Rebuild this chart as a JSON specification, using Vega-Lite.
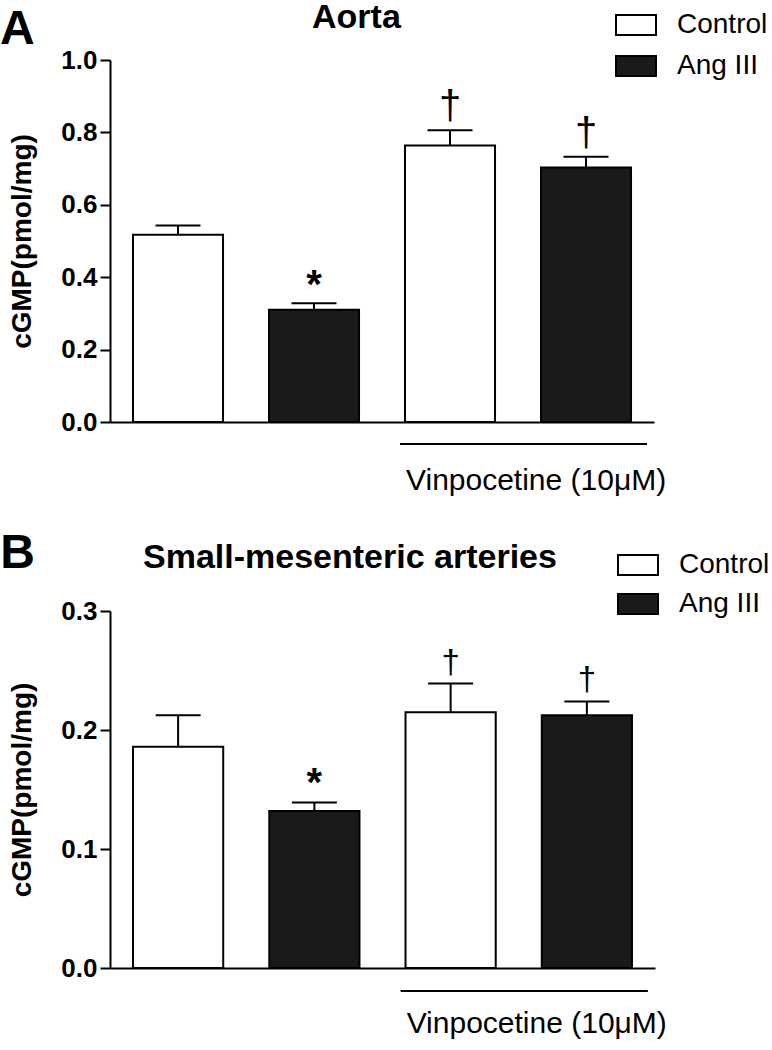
{
  "$schema": "https://vega.github.io/schema/vega-lite/v6.json",
  "padding": {"left": 0, "top": 1, "right": 0, "bottom": 0},
  "background": "white",
  "config": {
    "font": "Liberation Sans",
    "view": {"stroke": null},
    "axisY": {"domainColor": "black", "domainWidth": 2, "tickColor": "black", "tickWidth": 2, "tickSize": 10, "labelFontSize": 26, "labelFontWeight": "bold", "labelColor": "black", "labelPadding": 3, "titleFontSize": 28, "titleFontWeight": "bold", "titleColor": "black", "titlePadding": 24, "grid": false},
    "axisX": {"domainColor": "black", "domainWidth": 2, "ticks": false, "labels": false, "grid": false}
  },
  "datasets": {
    "aorta": [
      {"group": "Control", "treatment": "Control", "value": 0.517, "err": 0.543, "sig": ""},
      {"group": "Ang III", "treatment": "Ang III", "value": 0.310, "err": 0.328, "sig": "*"},
      {"group": "Vinpocetine + Control", "treatment": "Control", "value": 0.764, "err": 0.806, "sig": "†"},
      {"group": "Vinpocetine + Ang III", "treatment": "Ang III", "value": 0.703, "err": 0.733, "sig": "†"}
    ],
    "mesenteric": [
      {"group": "Control", "treatment": "Control", "value": 0.186, "err": 0.2125, "sig": ""},
      {"group": "Ang III", "treatment": "Ang III", "value": 0.132, "err": 0.139, "sig": "*"},
      {"group": "Vinpocetine + Control", "treatment": "Control", "value": 0.215, "err": 0.239, "sig": "†"},
      {"group": "Vinpocetine + Ang III", "treatment": "Ang III", "value": 0.2125, "err": 0.224, "sig": "†"}
    ],
    "panelA": [{"label": "A"}],
    "panelB": [{"label": "B"}],
    "vinpo": [{"label": "Vinpocetine (10μM)"}]
  },
  "spacing": 189,
  "bounds": "flush",
  "resolve": {"scale": {"x": "independent", "y": "independent", "fill": "independent"}, "legend": {"fill": "independent"}},
  "vconcat": [
    {
      "width": 544,
      "height": 362,
      "title": {"text": "Aorta", "anchor": "start", "frame": "group", "dx": 202, "fontSize": 34, "fontWeight": "bold", "color": "black", "baseline": "alphabetic", "offset": -58},
      "layer": [
        {
          "data": {"name": "aorta"},
          "mark": {"type": "bar", "stroke": "black", "strokeWidth": 2},
          "encoding": {
            "x": {"field": "group", "type": "nominal", "scale": {"domain": ["Control", "Ang III", "Vinpocetine + Control", "Vinpocetine + Ang III"], "paddingInner": 0.338, "paddingOuter": 0.169}, "axis": {"title": null}},
            "y": {"field": "value", "type": "quantitative", "scale": {"domain": [0, 1]}, "axis": {"values": [0, 0.2, 0.4, 0.6, 0.8, 1], "format": ".1f", "title": "cGMP(pmol/mg)"}},
            "fill": {"field": "treatment", "type": "nominal", "scale": {"domain": ["Control", "Ang III"], "range": ["white", "#1a1a1a"]},
              "legend": {"orient": "none", "legendX": 505, "legendY": -56, "title": null, "symbolType": "M-1,-0.5H1V0.5H-1Z", "symbolSize": 1600, "symbolStrokeColor": "black", "symbolStrokeWidth": 2, "symbolOpacity": 1, "labelFontSize": 28, "labelColor": "black", "labelOffset": 20, "rowPadding": 6}}
          }
        },
        {
          "data": {"name": "aorta"},
          "mark": {"type": "rule", "strokeWidth": 2, "color": "black"},
          "encoding": {
            "x": {"field": "group", "type": "nominal"},
            "y": {"field": "value", "type": "quantitative", "axis": {"title": "cGMP(pmol/mg)"}},
            "y2": {"field": "err"}
          }
        },
        {
          "data": {"name": "aorta"},
          "mark": {"type": "tick", "orient": "horizontal", "size": 45, "thickness": 2, "color": "black", "opacity": 1},
          "encoding": {
            "x": {"field": "group", "type": "nominal"},
            "y": {"field": "err", "type": "quantitative", "axis": {"title": "cGMP(pmol/mg)"}}
          }
        },
        {
          "data": {"name": "aorta"},
          "transform": [{"filter": "datum.sig == '*'"}],
          "mark": {"type": "text", "fontSize": 40, "fontWeight": "bold", "baseline": "alphabetic", "dy": -5, "color": "black"},
          "encoding": {
            "x": {"field": "group", "type": "nominal"},
            "y": {"field": "err", "type": "quantitative"},
            "text": {"field": "sig"}
          }
        },
        {
          "data": {"name": "aorta"},
          "transform": [{"filter": "datum.sig == '†'"}],
          "mark": {"type": "text", "fontSize": 40, "baseline": "alphabetic", "dy": -11, "color": "black"},
          "encoding": {
            "x": {"field": "group", "type": "nominal"},
            "y": {"field": "err", "type": "quantitative"},
            "text": {"field": "sig"}
          }
        },
        {
          "data": {"name": "vinpo"},
          "mark": {"type": "rule", "strokeWidth": 2, "color": "black", "xOffset": -50, "x2Offset": 61, "yOffset": 22},
          "encoding": {
            "x": {"datum": "Vinpocetine + Control"},
            "x2": {"datum": "Vinpocetine + Ang III"},
            "y": {"datum": 0}
          }
        },
        {
          "data": {"name": "vinpo"},
          "mark": {"type": "text", "fontSize": 30, "align": "left", "baseline": "alphabetic", "dx": -44, "dy": 68, "color": "black"},
          "encoding": {
            "x": {"datum": "Vinpocetine + Control"},
            "y": {"datum": 0},
            "text": {"field": "label"}
          }
        },
        {
          "data": {"name": "panelA"},
          "mark": {"type": "text", "fontSize": 48, "fontWeight": "bold", "align": "left", "baseline": "alphabetic", "dx": -178, "dy": -16, "color": "black"},
          "encoding": {
            "x": {"datum": "Control"},
            "y": {"datum": 1},
            "text": {"field": "label"}
          }
        }
      ]
    },
    {
      "width": 545,
      "height": 357,
      "title": {"text": "Small-mesenteric arteries", "anchor": "start", "frame": "group", "dx": 33, "fontSize": 34, "fontWeight": "bold", "color": "black", "baseline": "alphabetic", "offset": -72},
      "layer": [
        {
          "data": {"name": "mesenteric"},
          "mark": {"type": "bar", "stroke": "black", "strokeWidth": 2},
          "encoding": {
            "x": {"field": "group", "type": "nominal", "scale": {"domain": ["Control", "Ang III", "Vinpocetine + Control", "Vinpocetine + Ang III"], "paddingInner": 0.338, "paddingOuter": 0.169}, "axis": {"title": null}},
            "y": {"field": "value", "type": "quantitative", "scale": {"domain": [0, 0.3]}, "axis": {"values": [0, 0.1, 0.2, 0.3], "format": ".1f", "title": "cGMP(pmol/mg)"}},
            "fill": {"field": "treatment", "type": "nominal", "scale": {"domain": ["Control", "Ang III"], "range": ["white", "#1a1a1a"]},
              "legend": {"orient": "none", "legendX": 507, "legendY": -67, "title": null, "symbolType": "M-1,-0.5H1V0.5H-1Z", "symbolSize": 1600, "symbolStrokeColor": "black", "symbolStrokeWidth": 2, "symbolOpacity": 1, "labelFontSize": 28, "labelColor": "black", "labelOffset": 20, "rowPadding": 4}}
          }
        },
        {
          "data": {"name": "mesenteric"},
          "mark": {"type": "rule", "strokeWidth": 2, "color": "black"},
          "encoding": {
            "x": {"field": "group", "type": "nominal"},
            "y": {"field": "value", "type": "quantitative", "axis": {"title": "cGMP(pmol/mg)"}},
            "y2": {"field": "err"}
          }
        },
        {
          "data": {"name": "mesenteric"},
          "mark": {"type": "tick", "orient": "horizontal", "size": 45, "thickness": 2, "color": "black", "opacity": 1},
          "encoding": {
            "x": {"field": "group", "type": "nominal"},
            "y": {"field": "err", "type": "quantitative", "axis": {"title": "cGMP(pmol/mg)"}}
          }
        },
        {
          "data": {"name": "mesenteric"},
          "transform": [{"filter": "datum.sig == '*'"}],
          "mark": {"type": "text", "fontSize": 40, "fontWeight": "bold", "baseline": "alphabetic", "dy": -7, "color": "black"},
          "encoding": {
            "x": {"field": "group", "type": "nominal"},
            "y": {"field": "err", "type": "quantitative"},
            "text": {"field": "sig"}
          }
        },
        {
          "data": {"name": "mesenteric"},
          "transform": [{"filter": "datum.sig == '†'"}],
          "mark": {"type": "text", "fontSize": 33, "baseline": "alphabetic", "dy": -11, "color": "black"},
          "encoding": {
            "x": {"field": "group", "type": "nominal"},
            "y": {"field": "err", "type": "quantitative"},
            "text": {"field": "sig"}
          }
        },
        {
          "data": {"name": "vinpo"},
          "mark": {"type": "rule", "strokeWidth": 2, "color": "black", "xOffset": -50, "x2Offset": 61, "yOffset": 23},
          "encoding": {
            "x": {"datum": "Vinpocetine + Control"},
            "x2": {"datum": "Vinpocetine + Ang III"},
            "y": {"datum": 0}
          }
        },
        {
          "data": {"name": "vinpo"},
          "mark": {"type": "text", "fontSize": 30, "align": "left", "baseline": "alphabetic", "dx": -44, "dy": 65, "color": "black"},
          "encoding": {
            "x": {"datum": "Vinpocetine + Control"},
            "y": {"datum": 0},
            "text": {"field": "label"}
          }
        },
        {
          "data": {"name": "panelB"},
          "mark": {"type": "text", "fontSize": 48, "fontWeight": "bold", "align": "left", "baseline": "alphabetic", "dx": -178, "dy": -43, "color": "black"},
          "encoding": {
            "x": {"datum": "Control"},
            "y": {"datum": 0.3},
            "text": {"field": "label"}
          }
        }
      ]
    }
  ]
}
